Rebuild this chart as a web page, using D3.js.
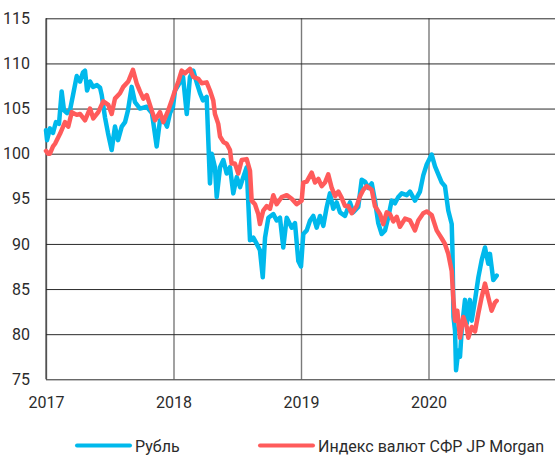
<!DOCTYPE html>
<html>
<head>
<meta charset="utf-8">
<script src="https://d3js.org/d3.v7.min.js"></script>
<style>
  body { margin: 0; background: #fff; }
  text { font-family: "Roboto", sans-serif; }
</style>
</head>
<body>
<script>
var W = 555, H = 457;
var margin = { top: 18.3, right: -1, bottom: 77.7, left: 46 };

// data, time as decimal years
var rubDates = [2017.000,2017.008,2017.031,2017.055,2017.078,2017.102,2017.123,2017.141,2017.165,2017.188,
  2017.212,2017.241,2017.267,2017.290,2017.306,2017.322,2017.345,2017.369,2017.400,2017.424,
  2017.437,2017.463,2017.486,2017.515,2017.541,2017.565,2017.594,2017.620,2017.643,2017.672,
  2017.698,2017.737,2017.790,2017.831,2017.868,2017.894,2017.933,2017.949,2017.973,2017.996,
  2018.012,2018.051,2018.075,2018.104,2018.129,2018.155,2018.184,2018.208,2018.231,2018.260,
  2018.271,2018.286,2018.300,2018.325,2018.339,2018.365,2018.391,2018.417,2018.443,2018.469,
  2018.496,2018.522,2018.547,2018.574,2018.600,2018.626,2018.653,2018.678,2018.700,2018.718,
  2018.744,2018.783,2018.809,2018.835,2018.861,2018.888,2018.927,2018.953,2018.979,2019.000,
  2019.018,2019.045,2019.071,2019.096,2019.123,2019.149,2019.175,2019.202,2019.227,2019.253,
  2019.280,2019.306,2019.345,2019.384,2019.410,2019.449,2019.476,2019.502,2019.528,2019.555,
  2019.580,2019.606,2019.633,2019.659,2019.685,2019.711,2019.737,2019.763,2019.790,2019.829,
  2019.855,2019.894,2019.933,2019.959,2019.986,2020.025,2020.051,2020.077,2020.104,2020.129,
  2020.155,2020.182,2020.188,2020.196,2020.208,2020.216,2020.234,2020.247,2020.260,2020.286,
  2020.300,2020.325,2020.339,2020.365,2020.391,2020.417,2020.443,2020.469,2020.482,2020.508,
  2020.535];
var rubValues = [102.6,101.5,102.8,102.3,103.5,103.3,106.9,104.8,104.5,104.8,
  106.5,108.6,108.0,109.0,109.2,107.0,108.0,107.4,107.6,107.3,
  106.5,104.0,102.3,100.4,103.0,101.5,103.0,103.5,104.8,107.4,
  105.7,105.0,105.2,104.5,100.8,103.7,103.5,103.0,104.5,105.2,
  107.0,107.9,108.5,104.4,108.5,109.2,107.8,106.7,105.9,106.3,
  102.2,96.7,100.0,98.5,95.2,98.5,99.3,97.8,98.5,95.6,
  97.4,96.3,97.4,98.5,90.4,90.7,90.0,89.3,86.3,90.7,
  92.9,93.3,92.6,92.9,89.6,92.9,91.8,92.3,88.1,87.5,
  91.1,91.5,92.6,93.1,91.8,93.1,92.0,94.1,95.6,93.9,
  94.6,93.5,93.1,94.6,93.5,94.1,97.1,96.9,96.2,96.7,
  94.8,92.3,91.1,91.5,93.0,94.8,94.5,95.2,95.6,95.4,
  95.8,94.8,95.8,97.6,98.8,99.9,98.6,97.7,96.8,96.4,
  93.7,92.2,89.3,81.9,80.4,76.0,78.2,77.5,80.4,83.8,
  81.2,83.8,81.5,83.8,86.3,88.2,89.6,87.8,88.9,86.0,
  86.5];

var jpmDates = [2017.000,2017.016,2017.031,2017.055,2017.071,2017.110,2017.149,2017.175,2017.202,2017.241,
  2017.267,2017.306,2017.345,2017.371,2017.410,2017.449,2017.489,2017.515,2017.541,2017.580,
  2017.606,2017.645,2017.682,2017.711,2017.737,2017.763,2017.790,2017.829,2017.855,2017.894,
  2017.920,2017.959,2017.986,2018.012,2018.038,2018.064,2018.090,2018.129,2018.155,2018.195,
  2018.221,2018.260,2018.286,2018.312,2018.325,2018.351,2018.365,2018.391,2018.417,2018.443,
  2018.456,2018.482,2018.508,2018.535,2018.574,2018.600,2018.613,2018.639,2018.665,2018.678,
  2018.704,2018.731,2018.757,2018.783,2018.809,2018.849,2018.888,2018.927,2018.966,2019.005,
  2019.018,2019.045,2019.084,2019.110,2019.136,2019.162,2019.188,2019.214,2019.241,2019.267,
  2019.293,2019.319,2019.345,2019.371,2019.398,2019.437,2019.463,2019.489,2019.515,2019.555,
  2019.580,2019.620,2019.645,2019.672,2019.698,2019.724,2019.751,2019.776,2019.816,2019.855,
  2019.894,2019.920,2019.959,2019.986,2020.025,2020.064,2020.104,2020.129,2020.155,2020.182,
  2020.194,2020.208,2020.226,2020.247,2020.273,2020.300,2020.312,2020.339,2020.365,2020.391,
  2020.417,2020.443,2020.469,2020.495,2020.521,2020.535];
var jpmValues = [100.3,100.0,100.0,100.8,101.1,102.2,103.5,103.0,104.6,104.3,
  104.4,103.7,105.0,103.9,104.6,105.8,105.4,104.4,106.1,106.7,
  107.4,108.0,109.3,107.8,106.9,106.1,106.5,104.8,103.7,104.6,
  103.5,104.8,105.9,107.0,108.0,109.2,108.9,109.4,108.5,108.3,
  107.8,107.9,107.0,105.9,104.4,103.3,101.9,101.3,101.1,100.4,
  98.9,98.9,97.8,99.3,99.4,98.1,94.8,94.4,93.3,92.2,
  93.7,94.2,93.9,95.4,94.4,95.2,95.4,95.0,94.4,94.8,
  96.8,96.9,97.9,96.8,97.2,96.4,96.8,97.7,96.2,95.3,
  95.8,95.1,94.2,94.2,93.4,94.2,95.3,96.0,96.4,96.0,
  94.2,93.3,92.2,93.5,93.3,92.5,93.0,91.9,92.8,92.6,
  91.5,92.6,93.4,93.6,93.2,91.5,90.6,90.0,88.9,87.0,
  84.1,81.5,82.6,79.6,81.9,80.8,79.6,80.8,80.3,82.3,
  84.1,85.6,84.1,82.6,83.5,83.7];

var yTicks = [75, 80, 85, 90, 95, 100, 105, 110, 115];
var xTicks = [2017, 2018, 2019, 2020];
var seriesNames = ["Рубль", "Индекс валют СФР JP Morgan"];
var seriesColors = ["#00b9ec", "#ff5b5b"];

var width = 556 - margin.left;
var height = 379.3 - margin.top;

var svg = d3.select("body").append("svg")
    .attr("width", W)
    .attr("height", H);

var g = svg.append("g")
    .attr("transform", "translate(" + margin.left + "," + margin.top + ")");

var x = d3.scaleLinear().domain([2017, 2021]).range([0, width]);
var y = d3.scaleLinear().domain([75, 115]).range([height, 0]);

// vertical year lines + labels
var xAxis = g.append("g")
  .attr("transform", "translate(0," + height + ")")
  .call(d3.axisBottom(x).tickValues(xTicks).tickFormat(d3.format("d"))
    .tickSize(-height).tickPadding(17));
xAxis.select(".domain").remove();
xAxis.selectAll("line").attr("stroke", "#7a7a7a").attr("stroke-width", 1.4);
xAxis.selectAll("text").attr("font-size", 16).attr("fill", "#2b2b2b");

// horizontal gridlines + labels
var yAxis = g.append("g")
  .call(d3.axisLeft(y).tickValues(yTicks).tickSize(-width).tickPadding(16));
yAxis.select(".domain").remove();
yAxis.selectAll("line").attr("stroke", "#2a2a2a").attr("stroke-width", 1);
yAxis.selectAll("text").attr("font-size", 16).attr("fill", "#2b2b2b");

// left edge line
g.append("line")
  .attr("x1", x(2017)).attr("x2", x(2017))
  .attr("y1", 0).attr("y2", height)
  .attr("stroke", "#2a2a2a");

var line = d3.line()
  .x(function(d) { return x(d[0]); })
  .y(function(d) { return y(d[1]); });

var rub = rubDates.map(function(d, i) { return [d, rubValues[i]]; });
var jpm = jpmDates.map(function(d, i) { return [d, jpmValues[i]]; });

[rub, jpm].forEach(function(s, i) {
  g.append("path")
    .attr("d", line(s))
    .attr("fill", "none")
    .attr("stroke", seriesColors[i])
    .attr("stroke-width", 4.5)
    .attr("stroke-linejoin", "round")
    .attr("stroke-linecap", "round");
});

// legend
var legendX = [77, 260];
var legend = svg.append("g").attr("class", "legend");
seriesNames.forEach(function(name, i) {
  legend.append("line")
    .attr("x1", legendX[i]).attr("x2", legendX[i] + 53)
    .attr("y1", 445.5).attr("y2", 445.5)
    .attr("stroke", seriesColors[i])
    .attr("stroke-width", 4)
    .attr("stroke-linecap", "round");
  legend.append("text")
    .attr("x", legendX[i] + 58)
    .attr("y", 452)
    .attr("font-size", 16)
    .attr("fill", "#2b2b2b")
    .text(name);
});
</script>
</body>
</html>
